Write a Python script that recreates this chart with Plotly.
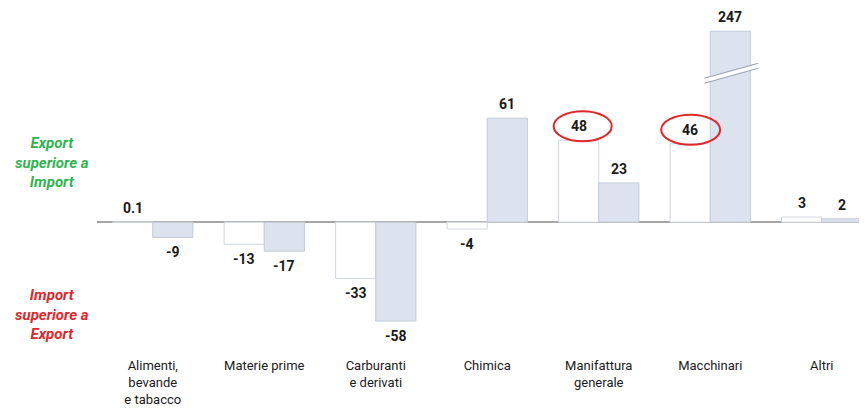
import numpy as np
import plotly.graph_objects as go

categories = ["Alimenti,<br>bevande<br>e tabacco", "Materie prime", "Carburanti<br>e derivati",
              "Chimica", "Manifattura<br>generale", "Macchinari", "Altri"]
series_a = [0.1, -13, -33, -4, 48, 46, 3]
series_b = [-9, -17, -58, 61, 23, 247, 2]

AXIS_CAP = 112  # broken-axis display cap

def fmt(v):
    return f"{v:g}"

x_idx = np.arange(len(categories))
b_disp = np.minimum(np.array(series_b, dtype=float), AXIS_CAP)
OFF = 0.18  # group offset of each bar within its category

FONT = "Roboto, Liberation Sans, sans-serif"
label_font = dict(family=FONT, size=14, color="#1a1a1a", weight="bold")

fig = go.Figure()
fig.add_trace(go.Bar(
    x=x_idx, y=series_a,
    marker=dict(color="#ffffff", line=dict(color="#d0d6e0", width=1)), showlegend=False))
fig.add_trace(go.Bar(
    x=x_idx, y=b_disp,
    marker=dict(color="#dde3ee", line=dict(color="#c3cbd9", width=1)), showlegend=False))

annotations = []
for vals, disp, sign in ((series_a, series_a, -1), (series_b, b_disp, 1)):
    for i, (v, d) in enumerate(zip(vals, disp)):
        annotations.append(dict(x=i + sign * OFF, y=d, xref="x", yref="y", text=fmt(v),
                                showarrow=False, font=label_font, yanchor="middle",
                                yshift=14 if v >= 0 else -15))

shapes = []
# red ellipses around labels of Manifattura and Macchinari (series A)
for i, (dx0, dx1) in {4: (-25, 33), 5: (-29, 30)}.items():
    shapes.append(dict(type="circle", xref="x", yref="y", xsizemode="pixel", ysizemode="pixel",
                       xanchor=i - OFF, yanchor=series_a[i], x0=dx0, x1=dx1, y0=-1, y1=29,
                       line=dict(color="#e0282a", width=2)))
# axis break marks on the capped bar
ib = int(np.argmax(series_b))
shapes.append(dict(type="path", xref="x", yref="y", xsizemode="pixel", ysizemode="pixel",
                   xanchor=ib + OFF, yanchor=AXIS_CAP,
                   path="M -26,-52 L 28,-37 L 28,-32 L -26,-47 Z",
                   fillcolor="#ffffff", line=dict(width=0)))
for off in (-52, -47):
    shapes.append(dict(type="path", xref="x", yref="y", xsizemode="pixel", ysizemode="pixel",
                       xanchor=ib + OFF, yanchor=AXIS_CAP,
                       path=f"M -26,{off} L 28,{off+15}",
                       line=dict(color="#9aa4b4", width=1.2)))

side_font = dict(family=FONT, size=15, style="italic", weight="bold")
annotations += [
    dict(text="Export<br>superiore a<br>Import", xref="paper", yref="paper", x=-0.058, y=0.571,
         xanchor="center", yanchor="middle",
         showarrow=False, font=dict(color="#2fb54f", **side_font), align="center"),
    dict(text="Import<br>superiore a<br>Export", xref="paper", yref="paper", x=-0.058, y=0.109,
         xanchor="center", yanchor="middle",
         showarrow=False, font=dict(color="#e2262a", **side_font), align="center"),
]

fig.update_layout(
    width=859, height=406,
    margin=dict(l=89, r=0, t=13, b=64),
    paper_bgcolor="white", plot_bgcolor="white",
    barmode="group", bargap=0.28, bargroupgap=0,
    shapes=shapes, annotations=annotations,
    xaxis=dict(tickmode="array", tickvals=x_idx, ticktext=categories, range=[-0.5, 6.406],
               showgrid=False, zeroline=False, showline=False, ticks="", ticklabelstandoff=6,
               tickfont=dict(family=FONT, size=13, color="#1a1a1a")),
    yaxis=dict(range=[-75, 118], showgrid=False, showticklabels=False, ticks="",
               zeroline=True, zerolinecolor="#a6a6a6", zerolinewidth=2, showline=False),
)

fig.write_html("out.html")
